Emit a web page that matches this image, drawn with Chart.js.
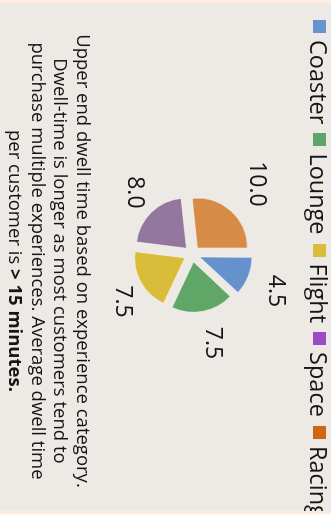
<!DOCTYPE html>
<html>
<head>
<meta charset="utf-8">
<title>Dwell time by experience</title>
<script src="https://cdn.jsdelivr.net/npm/chart.js@4.4.1/dist/chart.umd.min.js"></script>
<style>
  html, body { margin: 0; padding: 0; background: #fcebde; }
  body { width: 331px; height: 514px; overflow: hidden; position: relative; }
  /* the whole card is laid out landscape and turned a quarter clockwise */
  #frame {
    position: absolute; left: 0; top: 0; width: 514px; height: 331px;
    transform-origin: 0 0; transform: translateX(331px) rotate(90deg);
    background: #ede9e4; overflow: hidden;
    font-family: "Open Sans", sans-serif; color: #151515;
  }
  #chart { position: absolute; left: 0; top: 0; }
  #legend {
    position: absolute; left: 20px; top: -2px; white-space: nowrap;
    display: flex; align-items: center; font-size: 23.5px; line-height: 28px;
  }
  #legend .item { display: flex; align-items: center; margin-right: 9px; }
  #legend .box { width: 13px; height: 13px; margin-right: 7px; position: relative; top: -1px; }
  #caption {
    position: absolute; left: 8px; top: 236px; width: 506px;
    text-align: center; font-size: 18.5px; line-height: 22.7px;
  }
  .edge { position: absolute; top: 0; width: 3px; height: 331px; background: #fcebde; }
</style>
</head>
<body>
<div id="frame">
  <canvas id="chart" width="514" height="331"></canvas>
  <div id="legend"></div>
  <div id="caption">Upper end dwell time based on experience category.<br>Dwell-time is longer as most customers tend to<br>purchase multiple experiences. Average dwell time<br>per customer is <b>&gt; 15 minutes.</b></div>
  <div class="edge" style="left:0"></div>
  <div class="edge" style="left:511px"></div>
</div>
<script>
// Experience categories and upper-end dwell time (minutes)
const categories = ['Coaster', 'Lounge', 'Flight', 'Space', 'Racing'];
const dwellMinutes = [4.5, 7.5, 7.5, 8.0, 10.0];

const sliceColors = ['#6592cc', '#5fa667', '#d9bd3a', '#94779f', '#d68b47'];
const legendColors = ['#6694cf', '#5da566', '#d8bc3c', '#9a4cc6', '#cf6611'];

const SLICE_OFFSET = 32;
const LABEL_FONT = 23;
const LABEL_GAP = 7;
// text sits a little up and to the right inside its label box
const LABEL_NUDGE = { x: 5, y: -5 };

// Legend row built from the category list
const legendEl = document.getElementById('legend');
categories.forEach((name, i) => {
  const item = document.createElement('span');
  item.className = 'item';
  const box = document.createElement('span');
  box.className = 'box';
  box.style.background = legendColors[i];
  item.appendChild(box);
  item.appendChild(document.createTextNode(name));
  legendEl.appendChild(item);
});

// Value labels outside each slice, pushed out along the slice's mid-angle
const outsideLabels = {
  id: 'outsideLabels',
  afterDatasetsDraw(chart) {
    const ctx = chart.ctx;
    const meta = chart.getDatasetMeta(0);
    const values = chart.data.datasets[0].data;
    ctx.save();
    ctx.font = LABEL_FONT + 'px "Open Sans", sans-serif';
    ctx.fillStyle = '#151515';
    ctx.textAlign = 'center';
    ctx.textBaseline = 'middle';
    meta.data.forEach((arc, i) => {
      const p = arc.getProps(['x', 'y', 'startAngle', 'endAngle', 'outerRadius'], true);
      const mid = (p.startAngle + p.endAngle) / 2;
      const vx = Math.cos(mid), vy = Math.sin(mid);
      const shift = SLICE_OFFSET / 4;
      const ax = p.x + vx * (p.outerRadius + shift);
      const ay = p.y + vy * (p.outerRadius + shift);
      const text = Number(values[i]).toFixed(1);
      const w = ctx.measureText(text).width + 8;
      const h = LABEL_FONT * 1.2 + 8;
      const vs = 1 / Math.max(Math.abs(vx), Math.abs(vy));
      const cx = ax + (w / 2) * vx * vs + LABEL_GAP * vx + LABEL_NUDGE.x;
      const cy = ay + (h / 2) * vy * vs + LABEL_GAP * vy + LABEL_NUDGE.y;
      ctx.fillText(text, cx, cy);
    });
    ctx.restore();
  }
};

new Chart(document.getElementById('chart'), {
  type: 'pie',
  data: {
    labels: categories,
    datasets: [{
      data: dwellMinutes,
      backgroundColor: sliceColors,
      borderColor: 'rgba(255,255,255,0.55)',
      borderWidth: 1,
      offset: SLICE_OFFSET,
      hoverOffset: 0
    }]
  },
  options: {
    responsive: false,
    animation: false,
    radius: 50,
    layout: { padding: { left: 0, right: 6, top: 0, bottom: 53 } },
    plugins: {
      legend: { display: false },
      tooltip: { enabled: false }
    }
  },
  plugins: [outsideLabels]
});
</script>
</body>
</html>
